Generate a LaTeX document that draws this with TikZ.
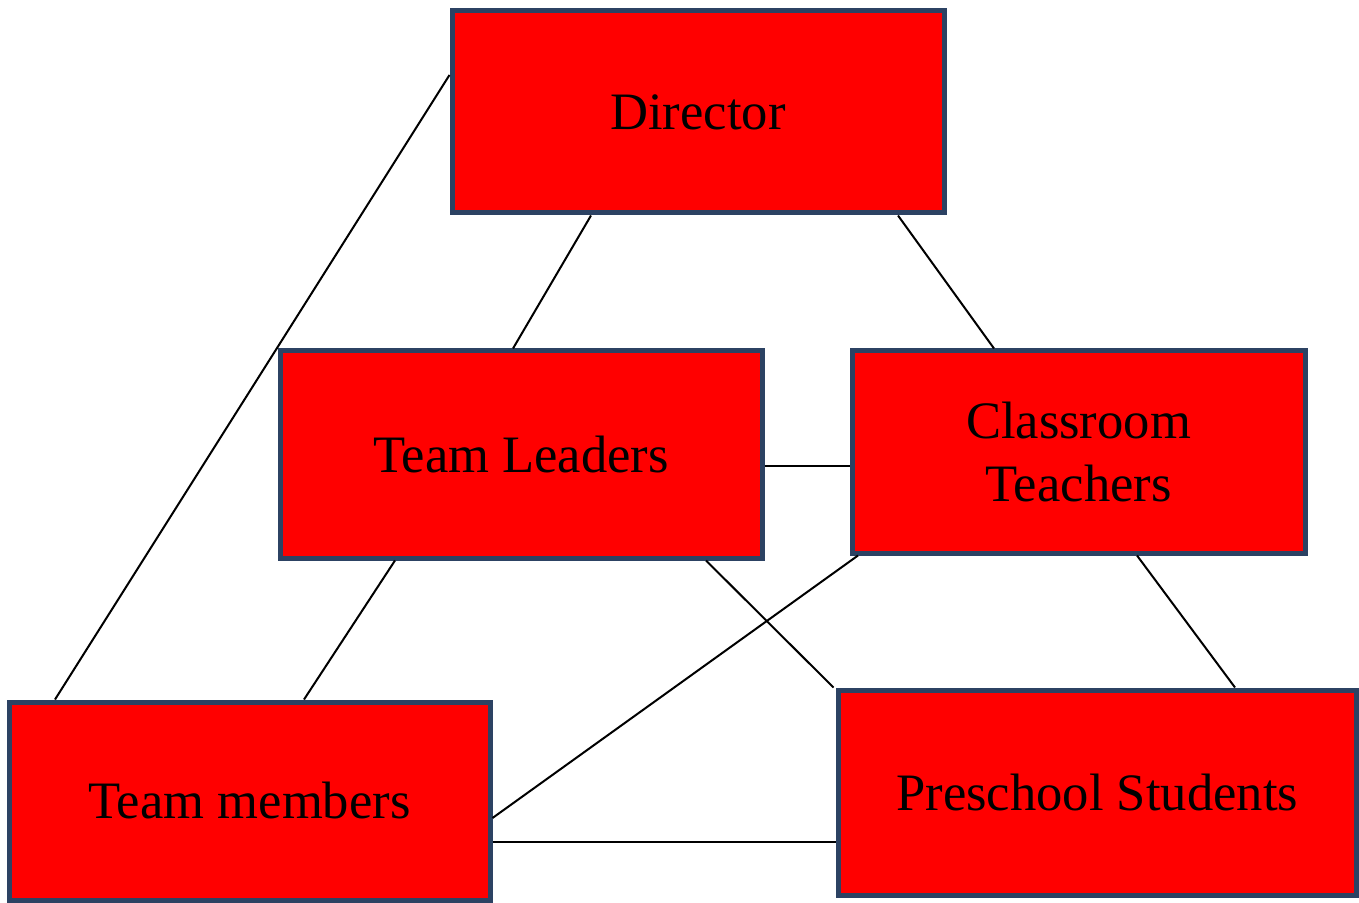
\documentclass[tikz,border=0pt]{standalone}
\usepackage{fontspec}
\setmainfont{Liberation Serif}
\usetikzlibrary{calc}
\definecolor{boxline}{HTML}{2C4263}

\begin{document}
\begin{tikzpicture}[x=0.5pt, y=-0.5pt,
		box/.style={draw=boxline, line width=2.5pt, fill=red, inner sep=0pt, align=center,
			font=\fontsize{26.3}{31.5}\selectfont},
		link/.style={line width=1pt, color=black}]
			%%%%% START %%%%%
			
			\useasboundingbox (0, 0) rectangle (1359, 903);
			
			\node[box, minimum width=246pt, minimum height=101pt] (dir) at (698, 112) {Director};
			\node[box, minimum width=241pt, minimum height=103.5pt] (tl) at (521, 454.5) {Team Leaders};
			\node[box, minimum width=226.5pt, minimum height=101pt] (ct) at (1078.5, 452) {Classroom\\Teachers};
			\node[box, minimum width=240.5pt, minimum height=99pt] (tm) at (249.5, 801) {Team members};
			\node[box, minimum width=259.25pt, minimum height=102.5pt] (ps) at (1097.25, 792.5) {Preschool Students};
			
			\draw[link] ($(dir.west)+(0, -37)$) -- ($(tm.north)+(-194.5, 0)$);
			\draw[link] ($(dir.south)+(-107, 0)$) -- ($(tl.north)+(-8, 0)$);
			\draw[link] ($(dir.south)+(200, 0)$) -- ($(ct.north)+(-84.5, 0)$);
			
			\draw[link] ($(tl.east)+(0, 11)$) -- ($(tl.east)+(85, 11)$);
			\draw[link] ($(tl.south)+(-126, 0)$) -- ($(tm.north)+(54.5, 0)$);
			\draw[link] ($(tl.south)+(185, 0)$) -- ($(ps.north west)+(-2, 0)$);
			
			\draw[link] ($(ct.south)+(-220.5, 0)$) -- ($(tm.east)+(0, 17)$);
			\draw[link] ($(ct.south)+(58.5, 0)$) -- ($(ps.north)+(137.75, 0)$);
			
			\draw[link] ($(tm.east)+(0, 41)$) -- ($(ps.west)+(0, 49.5)$);
			
			%%%%% END %%%%%
		\end{tikzpicture}
\end{document}
